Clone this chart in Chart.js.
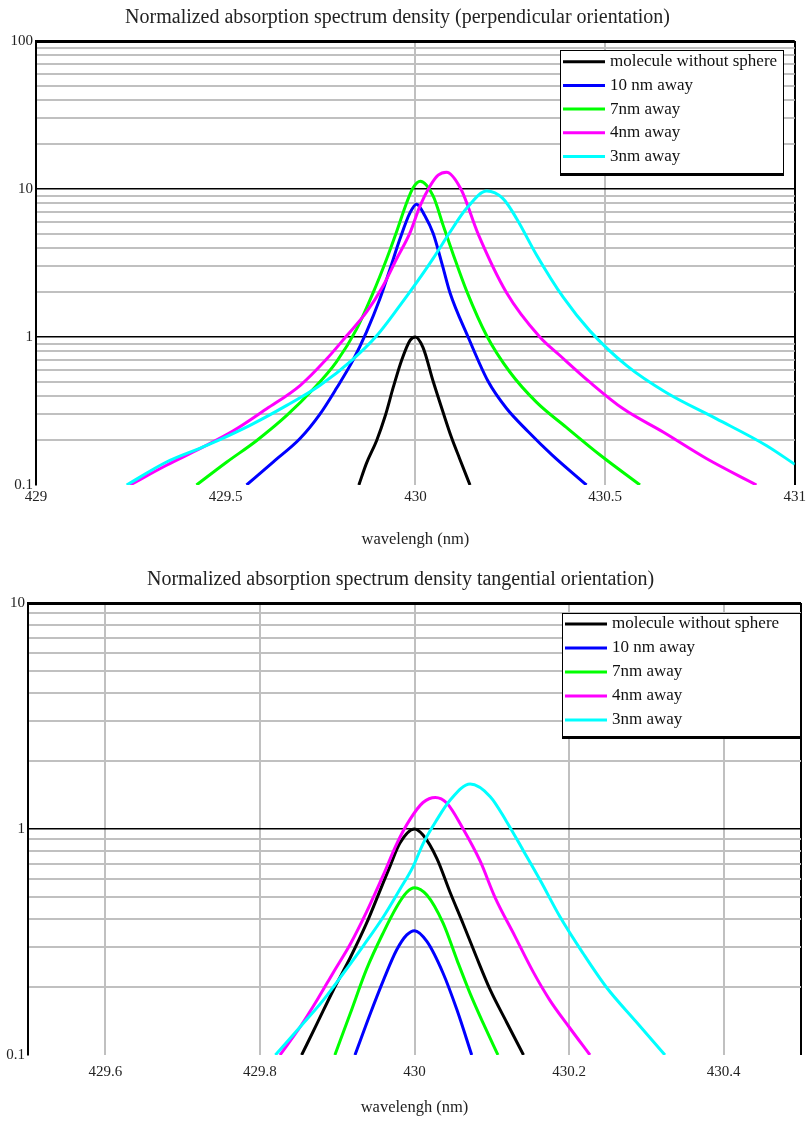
<!DOCTYPE html>
<html>
<head>
<meta charset="utf-8">
<script src="https://cdn.jsdelivr.net/npm/chart.js@4.4.1/dist/chart.umd.min.js"></script>
<style>
  html, body { margin: 0; padding: 0; background: #fff; }
  #wrap { position: relative; width: 809px; height: 1122px; }
  canvas { position: absolute; left: 0; }
  #perp { top: 0; }
  #tang { top: 560px; }
</style>
</head>
<body>
<div id="wrap">
  <canvas id="perp" width="809" height="555"></canvas>
  <canvas id="tang" width="809" height="562"></canvas>
</div>
<script>
const seriesLabels = ['molecule without sphere', '10 nm away', '7nm away', '4nm away', '3nm away'];
const seriesColors = ['#000000', '#0000ff', '#00ff00', '#ff00ff', '#00ffff'];

// ─── perpendicular orientation (top) ─────────────────────
const perpXTicks = [429, 429.5, 430, 430.5, 431];
const perpDecades = [0.1, 1, 10, 100];

const perpBlackX = [429.851, 429.871, 429.898, 429.920, 429.942, 429.964, 429.986, 430.0, 430.02, 430.047, 430.073, 430.095, 430.117, 430.144];
const perpBlackY = [0.1, 0.14, 0.2, 0.29, 0.46, 0.7, 0.95, 1.0, 0.85, 0.5, 0.31, 0.21, 0.15, 0.1];

const perpBlueX = [429.555, 429.625, 429.696, 429.748, 429.792, 429.836, 429.871, 429.906, 429.933, 429.959, 429.986, 430.003, 430.025, 430.047, 430.072, 430.091, 430.139, 430.192, 430.24, 430.297, 430.36, 430.451];
const perpBlueY = [0.1, 0.143, 0.206, 0.3, 0.45, 0.7, 1.08, 1.8, 2.87, 4.57, 6.92, 7.9, 6.6, 5.0, 3.0, 2.0, 1.0, 0.5, 0.33, 0.23, 0.16, 0.1];

const perpGreenX = [429.423, 429.503, 429.582, 429.661, 429.731, 429.792, 429.845, 429.889, 429.924, 429.950, 429.977, 429.994, 430.013, 430.047, 430.073, 430.10, 430.135, 430.188, 430.249, 430.319, 430.398, 430.486, 430.592];
const perpGreenY = [0.1, 0.143, 0.2, 0.295, 0.445, 0.68, 1.13, 2.0, 3.35, 5.1, 8.07, 10.2, 11.3, 8.95, 5.7, 3.6, 2.05, 1.02, 0.58, 0.363, 0.245, 0.16, 0.1];

const perpMagentaX = [429.248, 429.344, 429.432, 429.52, 429.608, 429.696, 429.766, 429.819, 429.871, 429.915, 429.950, 429.986, 430.012, 430.038, 430.06, 430.082, 430.12, 430.165, 430.24, 430.328, 430.381, 430.46, 430.548, 430.653, 430.767, 430.899];
const perpMagentaY = [0.1, 0.136, 0.176, 0.232, 0.327, 0.47, 0.71, 1.02, 1.47, 2.22, 3.35, 5.07, 7.66, 10.4, 12.4, 13.0, 10.0, 5.0, 2.0, 1.0, 0.75, 0.495, 0.327, 0.228, 0.151, 0.1];

const perpCyanX = [429.239, 429.344, 429.45, 429.564, 429.661, 429.748, 429.836, 429.898, 429.959, 430.003, 430.047, 430.091, 430.135, 430.188, 430.231, 430.267, 430.319, 430.39, 430.46, 430.557, 430.662, 430.794, 430.925, 431.0];
const perpCyanY = [0.1, 0.143, 0.185, 0.253, 0.345, 0.47, 0.71, 1.02, 1.63, 2.33, 3.4, 5.1, 7.4, 9.68, 8.6, 6.3, 3.6, 1.85, 1.1, 0.64, 0.42, 0.28, 0.185, 0.138];

// ─── tangential orientation (bottom) ─────────────────────
const tangXTicks = [429.5, 429.6, 429.8, 430, 430.2, 430.4, 430.5];
const tangXLabels = ['', '429.6', '429.8', '430', '430.2', '430.4', ''];
const tangDecades = [0.1, 1, 10];

const tangBlackX = [429.854, 429.874, 429.895, 429.917, 429.938, 429.955, 429.968, 429.981, 430.0, 430.011, 430.029, 430.046, 430.063, 430.080, 430.098, 430.119, 430.141];
const tangBlackY = [0.1, 0.138, 0.194, 0.27, 0.383, 0.53, 0.68, 0.865, 1.0, 0.94, 0.74, 0.525, 0.38, 0.272, 0.194, 0.14, 0.1];

const tangBlueX = [429.923, 429.943, 429.960, 429.977, 429.99, 430.0, 430.016, 430.037, 430.055, 430.074];
const tangBlueY = [0.1, 0.153, 0.215, 0.292, 0.34, 0.355, 0.318, 0.230, 0.158, 0.1];

const tangGreenX = [429.897, 429.917, 429.938, 429.960, 429.977, 429.99, 430.0, 430.016, 430.037, 430.055, 430.072, 430.089, 430.108];
const tangGreenY = [0.1, 0.153, 0.24, 0.35, 0.453, 0.525, 0.55, 0.51, 0.383, 0.263, 0.187, 0.138, 0.1];

const tangMagentaX = [429.826, 429.852, 429.874, 429.895, 429.917, 429.938, 429.960, 429.977, 429.994, 430.011, 430.027, 430.042, 430.063, 430.085, 430.104, 430.13, 430.153, 430.175, 430.2, 430.227];
const tangMagentaY = [0.1, 0.133, 0.175, 0.232, 0.31, 0.43, 0.63, 0.86, 1.10, 1.31, 1.38, 1.30, 1.0, 0.72, 0.5, 0.335, 0.235, 0.175, 0.133, 0.1];

const tangCyanX = [429.82, 429.852, 429.882, 429.908, 429.934, 429.960, 429.981, 429.998, 430.011, 430.029, 430.046, 430.072, 430.098, 430.119, 430.141, 430.163, 430.188, 430.218, 430.248, 430.287, 430.324];
const tangCyanY = [0.1, 0.133, 0.175, 0.230, 0.305, 0.41, 0.54, 0.68, 0.86, 1.10, 1.34, 1.58, 1.39, 1.08, 0.8, 0.59, 0.41, 0.282, 0.20, 0.14, 0.1];

const logSteps = [1, 2, 3, 4, 5, 6, 7, 8, 9];

Chart.defaults.font.family = "'Liberation Serif', 'Times New Roman', serif";
Chart.defaults.color = '#1c1c1c';

function pts(xs, ys) { return xs.map((x, i) => ({ x, y: ys[i] })); }

function gridValues(decades) {
  const out = [];
  decades.slice(0, -1).forEach(d => logSteps.forEach(s => out.push(d * s)));
  out.push(decades[decades.length - 1]);
  return out;
}

function isDecade(v) {
  const l = Math.log10(v);
  return Math.abs(l - Math.round(l)) < 1e-6;
}

function makeDatasets(list) {
  return list.map(([xs, ys], i) => ({
    label: seriesLabels[i],
    data: pts(xs, ys),
    borderColor: seriesColors[i],
    backgroundColor: seriesColors[i],
    borderWidth: 3,
    pointRadius: 0,
    cubicInterpolationMode: 'monotone',
    order: list.length - i
  }));
}

// legend drawn as a framed box inside the plot, like the original
const boxLegend = {
  id: 'boxLegend',
  afterDatasetsDraw(chart, args, o) {
    const { ctx, chartArea } = chart;
    const x = Math.round(chartArea.right - o.right - o.width);
    const y = Math.round(chartArea.top + o.top);
    ctx.save();
    ctx.fillStyle = '#fff';
    ctx.fillRect(x, y, o.width, o.height);
    ctx.strokeStyle = '#000';
    ctx.lineWidth = 1;
    ctx.strokeRect(x + 0.5, y + 0.5, o.width, o.height);
    ctx.lineWidth = 3;
    ctx.beginPath();
    ctx.moveTo(x, y + o.height + 1.5);
    ctx.lineTo(x + o.width + 1, y + o.height + 1.5);
    ctx.stroke();
    ctx.font = "17px 'Liberation Serif'";
    ctx.textBaseline = 'middle';
    chart.data.datasets.forEach((ds, i) => {
      const ly = y + o.firstRow + i * o.rowGap;
      ctx.strokeStyle = ds.borderColor;
      ctx.lineWidth = ds.borderWidth;
      ctx.beginPath();
      ctx.moveTo(x + 3, ly);
      ctx.lineTo(x + 45, ly);
      ctx.stroke();
      ctx.fillStyle = '#111';
      ctx.fillText(ds.label, x + 50, ly);
    });
    ctx.restore();
  }
};

function buildChart(el, cfg) {
  const yGrid = gridValues(cfg.decades);
  const yMin = cfg.decades[0];
  const yMax = cfg.decades[cfg.decades.length - 1];
  const xMin = cfg.xTicks[0], xMax = cfg.xTicks[cfg.xTicks.length - 1];
  return new Chart(document.getElementById(el), {
    type: 'line',
    data: { datasets: makeDatasets(cfg.series) },
    plugins: [boxLegend],
    options: {
      responsive: false,
      animation: false,
      layout: { padding: { right: cfg.padRight } },
      plugins: {
        legend: { display: false },
        tooltip: { enabled: false },
        title: {
          display: true,
          text: cfg.title,
          font: { size: 20, weight: 'normal' },
          color: '#222',
          padding: { top: cfg.titleTop, bottom: 11 }
        },
        boxLegend: cfg.legend
      },
      scales: {
        x: {
          type: 'linear',
          min: xMin,
          max: xMax,
          afterBuildTicks: s => { s.ticks = cfg.xTicks.map(v => ({ value: v })); },
          afterFit: s => { s.height = cfg.xHeight; },
          ticks: {
            autoSkip: false,
            maxRotation: 0,
            padding: cfg.xTickPad,
            font: { size: 15 },
            color: '#222',
            callback: (v, i) => cfg.xLabels ? cfg.xLabels[i] : String(v)
          },
          grid: {
            drawTicks: false,
            lineWidth: 2,
            color: c => {
              const v = c.tick ? c.tick.value : null;
              if (v === xMax) return '#000';
              if (cfg.hiddenX.includes(v)) return 'rgba(0,0,0,0)';
              return '#c0c0c0';
            }
          },
          border: { display: false },
          title: {
            display: true,
            text: 'wavelengh (nm)',
            font: { size: 16.5 },
            color: '#222',
            padding: { top: 0, bottom: cfg.xTitlePad }
          }
        },
        y: {
          type: 'logarithmic',
          min: yMin,
          max: yMax,
          afterBuildTicks: s => { s.ticks = yGrid.map(v => ({ value: v })); },
          afterFit: s => { s.width = cfg.yWidth; },
          ticks: {
            autoSkip: false,
            padding: 3,
            font: { size: 15 },
            color: '#222',
            callback: v => isDecade(v) ? String(+v.toPrecision(3)) : ''
          },
          grid: {
            drawTicks: false,
            color: c => {
              if (!c.tick) return '#c0c0c0';
              if (Math.abs(c.tick.value - yMin) < 1e-9) return 'rgba(0,0,0,0)';
              return isDecade(c.tick.value) ? '#000' : '#c0c0c0';
            },
            lineWidth: c => {
              if (!c.tick) return 2;
              if (Math.abs(c.tick.value - yMax) < 1e-9) return 3;
              return isDecade(c.tick.value) ? 1.5 : 2;
            }
          },
          border: { color: '#000', width: 2 }
        }
      }
    }
  });
}

buildChart('perp', {
  title: 'Normalized absorption spectrum density (perpendicular orientation)',
  titleTop: 6,
  padRight: 14,
  xTicks: perpXTicks,
  xLabels: null,
  hiddenX: [429, 429.5],
  xHeight: 70,
  xTickPad: 3,
  xTitlePad: 5,
  yWidth: 36,
  decades: perpDecades,
  legend: { right: 12, width: 223, top: 9, height: 123, firstRow: 11.7, rowGap: 23.7 },
  series: [
    [perpBlackX, perpBlackY],
    [perpBlueX, perpBlueY],
    [perpGreenX, perpGreenY],
    [perpMagentaX, perpMagentaY],
    [perpCyanX, perpCyanY]
  ]
});

buildChart('tang', {
  title: 'Normalized absorption spectrum density tangential orientation)',
  titleTop: 8,
  padRight: 8,
  xTicks: tangXTicks,
  xLabels: tangXLabels,
  hiddenX: [429.5],
  xHeight: 67,
  xTickPad: 8,
  xTitlePad: 4,
  yWidth: 28,
  decades: tangDecades,
  legend: { right: 1, width: 238, top: 10, height: 123, firstRow: 11, rowGap: 24 },
  series: [
    [tangBlackX, tangBlackY],
    [tangBlueX, tangBlueY],
    [tangGreenX, tangGreenY],
    [tangMagentaX, tangMagentaY],
    [tangCyanX, tangCyanY]
  ]
});
</script>
</body>
</html>
